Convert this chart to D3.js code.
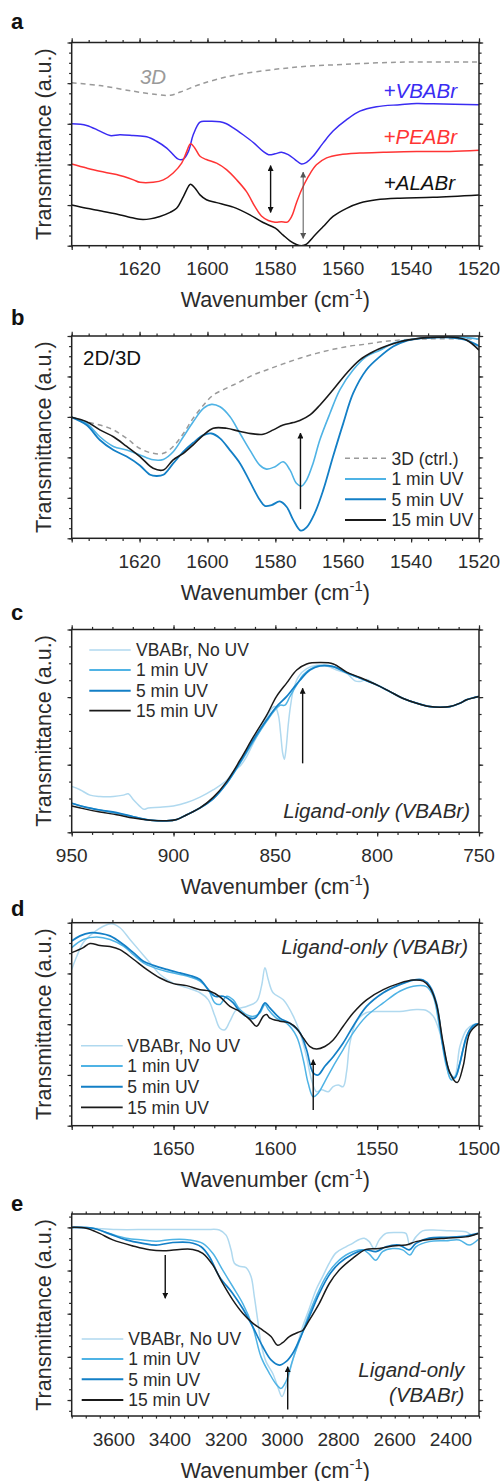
<!DOCTYPE html>
<html><head><meta charset="utf-8">
<script src="https://cdn.jsdelivr.net/npm/d3@7"></script>
<style>body{margin:0;background:#fff}</style>
</head><body><svg id="c" width="500" height="1481" xmlns="http://www.w3.org/2000/svg"></svg>
<script>
// ---------- DATA (wavenumber, transmittance a.u.) ----------
const a3D = [[1640,4.01],[1631.7,3.94],[1621.8,3.80],[1615.0,3.72],[1611.0,3.70],[1608.0,3.78],[1602.2,3.97],[1592.4,4.19],[1580.0,4.34],[1570.0,4.42],[1560.0,4.46],[1550.0,4.50],[1540.0,4.52],[1520,4.52]];
const aVBABr = [[1640,3.00],[1635.6,2.96],[1631.7,2.82],[1628.7,2.71],[1625.8,2.73],[1621.9,2.71],[1617.9,2.68],[1615.0,2.57],[1612.0,2.40],[1610.1,2.24],[1608.6,2.13],[1607.1,2.13],[1605.6,2.32],[1604.2,2.73],[1602.2,3.04],[1600.3,3.06],[1596.3,3.05],[1594.4,3.00],[1592.4,2.90],[1589.5,2.73],[1586.5,2.54],[1583.6,2.32],[1582.0,2.24],[1580.1,2.26],[1578.2,2.30],[1576.2,2.24],[1574.2,2.12],[1572.3,2.01],[1570.8,2.05],[1568.9,2.20],[1565.9,2.53],[1563.0,2.82],[1559.0,3.10],[1555.1,3.31],[1550.2,3.42],[1543.3,3.47],[1538.4,3.50],[1533.5,3.49],[1520,3.47]];
const aPEABr = [[1640,2.01],[1635.6,1.91],[1631.7,1.83],[1626.8,1.75],[1621.8,1.62],[1619.9,1.56],[1616.0,1.56],[1613.0,1.62],[1610.1,1.79],[1607.6,2.03],[1606.1,2.32],[1605.0,2.51],[1603.7,2.40],[1602.2,2.20],[1600.3,2.12],[1597.3,2.03],[1594.4,1.87],[1591.4,1.62],[1588.5,1.33],[1586.0,0.96],[1584.1,0.73],[1582.1,0.62],[1580.1,0.58],[1578.2,0.59],[1576.5,0.58],[1575.2,0.72],[1573.8,1.05],[1572.3,1.37],[1570.3,1.70],[1567.9,1.99],[1564.9,2.16],[1561.0,2.24],[1555.1,2.28],[1548.2,2.30],[1538.4,2.32],[1528.6,2.32],[1520,2.35]];
const aALABr = [[1640,1.00],[1635.6,0.92],[1631.7,0.86],[1626.8,0.78],[1621.8,0.68],[1619.9,0.65],[1616.9,0.66],[1614.0,0.72],[1611.0,0.82],[1609.1,0.92],[1607.1,1.21],[1605.6,1.46],[1605.0,1.51],[1603.7,1.42],[1602.2,1.25],[1600.3,1.13],[1597.3,1.06],[1592.4,0.95],[1587.5,0.76],[1583.6,0.57],[1580.0,0.43],[1577.7,0.26],[1575.7,0.12],[1573.8,0.03],[1572.3,0.00],[1570.8,0.04],[1568.9,0.21],[1565.9,0.47],[1563.0,0.72],[1559.0,0.92],[1555.1,1.05],[1550.2,1.13],[1543.3,1.17],[1533.5,1.19],[1520,1.25]];

const b3D = [[1640,2.99],[1635.6,2.88],[1631.7,2.80],[1627.7,2.68],[1623.8,2.47],[1619.9,2.22],[1616.0,2.10],[1613.0,2.10],[1610.1,2.27],[1607.1,2.59],[1604.2,2.97],[1601.2,3.29],[1598.3,3.54],[1594.4,3.71],[1590.4,3.87],[1586.5,4.04],[1582.6,4.16],[1577.7,4.31],[1572.8,4.45],[1567.9,4.57],[1563.0,4.67],[1558.1,4.75],[1553.2,4.80],[1548.2,4.86],[1543.3,4.90],[1538.4,4.92],[1533.5,4.93],[1528.6,4.93],[1523.7,4.93],[1520,4.92]];
const b1min = [[1640,2.99],[1635.6,2.84],[1631.7,2.51],[1627.7,2.27],[1623.8,2.18],[1619.9,2.06],[1616.0,1.94],[1613.0,1.95],[1610.1,2.14],[1607.1,2.51],[1604.2,2.88],[1601.2,3.21],[1598.8,3.31],[1596.3,3.25],[1593.4,3.01],[1590.4,2.59],[1587.5,2.18],[1584.6,1.81],[1582.6,1.71],[1580.1,1.77],[1577.7,1.89],[1575.7,1.69],[1573.8,1.36],[1572.3,1.29],[1570.8,1.44],[1568.9,1.85],[1566.9,2.43],[1563.9,3.09],[1561.0,3.67],[1557.1,4.16],[1553.2,4.49],[1549.2,4.65],[1545.3,4.82],[1541.4,4.90],[1537.4,4.94],[1533.5,4.97],[1528.6,4.98],[1523.7,4.96],[1520,4.92]];
const b5min = [[1640,2.99],[1635.6,2.80],[1631.7,2.43],[1627.7,2.18],[1623.8,2.02],[1619.9,1.80],[1616.9,1.57],[1615.0,1.54],[1613.0,1.57],[1610.1,1.85],[1607.1,2.14],[1604.2,2.36],[1601.2,2.55],[1598.8,2.59],[1596.3,2.47],[1593.4,2.18],[1590.4,1.85],[1587.5,1.40],[1584.6,0.95],[1583.1,0.80],[1581.1,0.82],[1578.7,0.91],[1576.7,0.78],[1574.7,0.45],[1572.5,0.19],[1570.8,0.27],[1568.4,0.62],[1565.9,1.19],[1563.0,2.02],[1560.0,2.84],[1557.1,3.58],[1553.2,4.16],[1549.2,4.49],[1545.3,4.74],[1541.4,4.88],[1537.4,4.94],[1533.5,4.96],[1528.6,4.96],[1523.7,4.90],[1520,4.75]];
const b15min = [[1640,2.99],[1635.6,2.88],[1631.7,2.68],[1627.7,2.51],[1623.8,2.27],[1619.9,2.02],[1616.0,1.73],[1613.0,1.69],[1610.1,1.94],[1607.1,2.10],[1604.2,2.31],[1601.2,2.55],[1598.3,2.72],[1594.4,2.72],[1590.4,2.64],[1586.5,2.58],[1583.6,2.57],[1580.6,2.68],[1577.7,2.80],[1574.7,2.86],[1572.8,2.91],[1569.8,3.05],[1566.9,3.29],[1563.0,3.67],[1559.0,4.08],[1555.1,4.41],[1551.2,4.61],[1547.3,4.75],[1543.3,4.86],[1539.4,4.92],[1535.5,4.96],[1531.6,4.97],[1527.6,4.97],[1523.7,4.90],[1520,4.65]];

const cNoUV = [[950,0.68],[945.9,0.63],[941.0,0.55],[936.1,0.53],[929.5,0.53],[924.6,0.55],[922.2,0.57],[919.7,0.48],[916.4,0.38],[914.5,0.34],[912.4,0.36],[906.6,0.37],[900.1,0.39],[893.5,0.44],[887.0,0.52],[880.4,0.63],[873.9,0.77],[870.6,0.90],[867.3,0.98],[864.1,1.12],[860.8,1.32],[857.5,1.51],[854.3,1.69],[851.8,1.83],[850.2,1.86],[848.5,1.73],[847.4,1.46],[846.4,1.17],[845.6,1.08],[844.8,1.22],[843.6,1.61],[842.5,1.88],[841.2,2.10],[838.7,2.30],[834.6,2.42],[829.7,2.47],[824.8,2.46],[819.9,2.40],[815.0,2.35],[810.9,2.24],[808.4,2.23],[805.2,2.26],[800.2,2.18],[793.7,2.08],[787.2,1.98],[780.6,1.91],[774.1,1.86],[769.1,1.85],[764.2,1.86],[759.3,1.91],[756.1,1.96],[750,2.01]];
const c1min = [[950,0.43],[944.3,0.38],[936.1,0.33],[927.9,0.28],[919.7,0.23],[911.5,0.18],[903.4,0.17],[898.4,0.19],[893.5,0.26],[887.0,0.36],[880.4,0.50],[873.9,0.72],[867.3,1.02],[860.8,1.34],[854.3,1.64],[850.2,1.81],[847.7,1.88],[845.3,1.88],[842.8,2.01],[839.5,2.18],[836.3,2.33],[831.3,2.44],[826.4,2.47],[821.5,2.45],[815.0,2.36],[808.4,2.28],[800.2,2.18],[793.7,2.08],[787.2,1.98],[780.6,1.91],[774.1,1.86],[769.1,1.85],[764.2,1.86],[759.3,1.91],[756.1,1.96],[750,2.01]];
const c5min = [[950,0.43],[944.3,0.38],[936.1,0.33],[927.9,0.29],[919.7,0.23],[911.5,0.18],[903.4,0.17],[898.4,0.19],[893.5,0.26],[887.0,0.36],[880.4,0.50],[873.9,0.73],[867.3,1.04],[860.8,1.37],[854.3,1.66],[849.4,1.86],[844.4,2.01],[841.2,2.13],[837.9,2.25],[833.0,2.40],[828.1,2.46],[821.5,2.45],[815.0,2.36],[808.4,2.28],[800.2,2.18],[793.7,2.08],[787.2,1.98],[780.6,1.91],[774.1,1.86],[769.1,1.85],[764.2,1.86],[759.3,1.91],[756.1,1.96],[750,2.01]];
const c15min = [[950,0.39],[944.3,0.35],[936.1,0.30],[927.9,0.26],[919.7,0.21],[911.5,0.18],[903.4,0.17],[898.4,0.19],[893.5,0.26],[887.0,0.36],[880.4,0.52],[873.9,0.75],[867.3,1.07],[860.8,1.41],[854.3,1.73],[849.4,2.01],[844.4,2.21],[839.5,2.40],[834.6,2.49],[828.1,2.51],[821.5,2.49],[815.0,2.37],[808.4,2.29],[800.2,2.18],[793.7,2.08],[787.2,1.98],[780.6,1.91],[774.1,1.86],[769.1,1.85],[764.2,1.86],[759.3,1.91],[756.1,1.96],[750,2.01]];

const dNoUV = [[1700,3.08],[1697.5,3.34],[1694.3,3.61],[1689.4,3.80],[1684.5,3.93],[1680.4,3.98],[1676.3,3.90],[1671.4,3.67],[1666.5,3.44],[1661.6,3.21],[1656.6,2.98],[1650.1,2.81],[1643.6,2.72],[1637.0,2.62],[1632.9,2.48],[1629.7,2.16],[1627.2,1.92],[1624.8,1.89],[1622.3,2.06],[1619.0,2.29],[1614.1,2.35],[1609.2,2.45],[1606.8,2.75],[1605.1,3.11],[1603.5,2.88],[1601.1,2.62],[1596.1,2.48],[1591.2,2.16],[1587.9,1.83],[1584.7,1.36],[1582.2,0.90],[1579.8,0.67],[1577.3,0.71],[1574.0,0.67],[1571.6,0.77],[1569.1,0.80],[1566.7,0.77],[1565.0,1.07],[1563.4,1.63],[1560.1,2.06],[1555.2,2.23],[1547.0,2.25],[1538.9,2.25],[1530.7,2.29],[1525.8,2.27],[1522.5,2.16],[1519.2,1.83],[1516.0,1.23],[1514.0,0.92],[1511.9,0.97],[1509.4,1.56],[1506.1,1.89],[1502.9,1.99],[1500,2.01]];
const d1min = [[1700,3.51],[1694.3,3.67],[1687.7,3.72],[1681.2,3.67],[1674.6,3.54],[1669.7,3.37],[1664.8,3.21],[1659.9,3.12],[1653.4,3.04],[1646.8,2.98],[1641.9,2.93],[1637.0,2.85],[1632.9,2.68],[1629.7,2.42],[1627.2,2.39],[1623.9,2.55],[1620.7,2.48],[1617.4,2.29],[1612.5,2.16],[1610.0,2.16],[1607.6,2.22],[1605.1,2.39],[1603.5,2.29],[1599.5,2.12],[1594.5,2.02],[1589.6,1.76],[1586.3,1.30],[1583.9,0.84],[1581.4,0.57],[1579.0,0.64],[1575.7,0.87],[1571.6,1.17],[1566.7,1.50],[1561.8,1.83],[1555.2,2.16],[1547.0,2.42],[1538.9,2.65],[1532.3,2.75],[1525.8,2.74],[1522.5,2.55],[1519.2,1.89],[1516.0,1.17],[1513.5,0.90],[1511.1,1.00],[1507.8,1.50],[1504.5,1.89],[1500,2.01]];
const d5min = [[1700,3.64],[1695.9,3.74],[1691.0,3.80],[1686.1,3.79],[1681.2,3.74],[1674.6,3.57],[1669.7,3.41],[1664.8,3.24],[1659.9,3.16],[1653.4,3.08],[1646.8,3.01],[1641.9,2.96],[1637.0,2.88],[1632.9,2.68],[1629.7,2.55],[1625.6,2.55],[1620.7,2.42],[1617.4,2.25],[1612.5,2.12],[1610.0,2.12],[1607.6,2.25],[1605.1,2.42],[1602.7,2.32],[1597.8,2.12],[1592.9,2.02],[1587.9,1.83],[1584.7,1.50],[1581.4,1.04],[1579.0,1.00],[1575.7,1.17],[1571.6,1.36],[1566.7,1.63],[1561.8,1.96],[1555.2,2.35],[1547.0,2.62],[1538.9,2.78],[1532.3,2.87],[1527.4,2.87],[1524.1,2.75],[1520.9,2.42],[1517.6,1.56],[1514.3,1.04],[1511.9,0.94],[1509.4,1.23],[1506.1,1.76],[1502.9,1.97],[1500,2.01]];
const d15min = [[1700,3.41],[1694.3,3.51],[1691.0,3.59],[1686.1,3.55],[1681.2,3.53],[1676.3,3.47],[1669.7,3.28],[1663.2,3.08],[1656.6,2.91],[1650.1,2.80],[1643.6,2.76],[1637.0,2.68],[1632.1,2.65],[1627.2,2.54],[1622.3,2.35],[1617.4,2.25],[1612.5,2.09],[1609.2,1.96],[1605.9,2.16],[1604.3,2.19],[1602.7,2.12],[1597.8,2.06],[1592.9,2.02],[1589.6,1.92],[1586.3,1.73],[1583.0,1.56],[1579.8,1.51],[1575.7,1.56],[1571.6,1.69],[1566.7,1.96],[1561.8,2.22],[1555.2,2.48],[1547.0,2.68],[1538.9,2.81],[1532.3,2.87],[1527.4,2.85],[1524.1,2.72],[1520.9,2.39],[1517.6,1.63],[1514.3,1.04],[1510.7,0.85],[1507.8,1.17],[1504.5,1.83],[1500,2.01]];

const eNoUV = [[3751.7,4.00],[3674.7,3.98],[3591.7,3.95],[3473.1,3.95],[3354.6,3.95],[3271.6,3.95],[3224.2,3.94],[3200.5,3.82],[3182.7,3.48],[3170.8,3.17],[3153.0,3.10],[3129.3,3.07],[3111.6,2.86],[3099.7,2.39],[3087.8,1.85],[3076.0,1.31],[3058.2,0.89],[3034.5,0.62],[3016.7,0.31],[3001.3,0.08],[2987.1,0.31],[2969.3,0.77],[2945.6,1.31],[2927.8,1.70],[2904.1,2.12],[2880.4,2.55],[2856.7,2.86],[2832.9,3.17],[2809.2,3.41],[2773.7,3.55],[2749.9,3.63],[2726.2,3.72],[2708.5,3.75],[2690.7,3.67],[2672.9,3.51],[2655.1,3.71],[2631.4,3.86],[2584.0,3.88],[2560.3,3.86],[2546.0,3.59],[2524.7,3.78],[2501.0,3.92],[2465.4,3.94],[2406.1,3.92],[2346.9,3.90],[2323.2,3.82],[2303.0,3.86]];
const e1min = [[3751.7,4.00],[3674.7,3.98],[3615.4,3.86],[3556.1,3.75],[3496.9,3.71],[3449.4,3.68],[3390.2,3.72],[3330.9,3.71],[3283.5,3.63],[3247.9,3.40],[3212.3,3.01],[3176.8,2.63],[3141.2,2.24],[3105.6,1.70],[3076.0,1.00],[3046.4,0.62],[3022.6,0.37],[3004.8,0.27],[2987.1,0.43],[2963.4,0.93],[2933.7,1.47],[2904.1,2.01],[2874.5,2.47],[2844.8,2.86],[2809.2,3.17],[2761.8,3.40],[2714.4,3.48],[2690.7,3.38],[2667.0,3.24],[2643.3,3.44],[2607.7,3.51],[2572.1,3.48],[2546.0,3.36],[2524.7,3.55],[2477.3,3.67],[2418.0,3.69],[2370.6,3.71],[2335.0,3.59],[2303.0,3.72]];
const e5min = [[3751.7,4.00],[3674.7,3.98],[3615.4,3.85],[3556.1,3.71],[3496.9,3.63],[3449.4,3.59],[3390.2,3.65],[3330.9,3.65],[3289.4,3.55],[3259.8,3.32],[3224.2,2.86],[3176.8,2.47],[3141.2,2.12],[3105.6,1.70],[3070.1,1.24],[3040.4,0.93],[3010.8,0.81],[2987.1,0.89],[2963.4,1.08],[2939.7,1.39],[2904.1,1.93],[2868.5,2.47],[2832.9,2.90],[2797.4,3.17],[2749.9,3.38],[2702.5,3.48],[2667.0,3.44],[2631.4,3.55],[2584.0,3.59],[2548.4,3.48],[2524.7,3.63],[2477.3,3.75],[2418.0,3.77],[2346.9,3.80],[2303.0,3.86]];
const e15min = [[3751.7,4.00],[3698.4,3.98],[3651.0,3.86],[3603.6,3.71],[3532.4,3.57],[3473.1,3.48],[3413.9,3.46],[3366.4,3.49],[3319.0,3.49],[3283.5,3.40],[3247.9,3.13],[3212.3,2.70],[3176.8,2.32],[3141.2,2.01],[3105.6,1.78],[3070.1,1.62],[3040.4,1.47],[3016.7,1.27],[2999.0,1.33],[2975.2,1.47],[2939.7,1.58],[2927.8,1.61],[2904.1,1.85],[2868.5,2.24],[2832.9,2.70],[2797.4,3.01],[2749.9,3.28],[2702.5,3.49],[2655.1,3.51],[2607.7,3.57],[2560.3,3.59],[2524.7,3.67],[2477.3,3.72],[2418.0,3.75],[2346.9,3.78],[2303.0,3.86]];

// tick labels
const xTicksAB = [1620,1600,1580,1560,1540,1520];
const xTicksC = [950,900,850,800,750];
const xTicksD = [1650,1600,1550,1500];
const xTicksE = [3600,3400,3200,3000,2800,2600,2400];

const legendUV = ["VBABr, No UV","1 min UV","5 min UV","15 min UV"];
const legendB = ["3D (ctrl.)","1 min UV","5 min UV","15 min UV"];

// ---------- STYLES ----------
const FONT = "'Liberation Sans', Arial, Helvetica, sans-serif";
const TXT = "#2b2b2b";
const C_LIGHT = "#b0d9ef", C_1 = "#4fb3e5", C_5 = "#137fc6", C_15 = "#1a1a1a", C_GREY = "#9a9a9a";
const svg = d3.select('#c');
const L = 71.7, R = 479;

const defs = svg.append('defs');
function marker(id, color){
  defs.append('marker').attr('id', id).attr('viewBox','0 0 10 10').attr('refX',9).attr('refY',5)
    .attr('markerWidth',6).attr('markerHeight',6).attr('markerUnits','userSpaceOnUse').attr('orient','auto-start-reverse')
    .append('path').attr('d','M0,0 L10,5 L0,10 z').attr('fill', color);
}
marker('ah','#111'); marker('ahg','#555');

function range(a,b,s){const o=[];for(let v=a;v<=b+1e-9;v+=s)o.push(+v.toFixed(4));return o;}

function panel(cfg){
  const g = svg.append('g');
  const x = d3.scaleLinear().domain(cfg.xDomain).range([L,R]);
  const y = d3.scaleLinear().domain(cfg.yDomain).range([cfg.bottom,cfg.top]);
  const cid = 'clip'+cfg.letter;
  defs.append('clipPath').attr('id',cid).append('rect').attr('x',L).attr('y',cfg.top).attr('width',R-L).attr('height',cfg.bottom-cfg.top);

  const xlo = Math.min(...cfg.xDomain), xhi = Math.max(...cfg.xDomain);
  const xMinor = range(xlo,xhi,cfg.xMinorStep);
  const xMajor = range(xlo,xhi,cfg.xMajorStep).filter(v=>Math.abs((v-cfg.xMajorBase)/cfg.xMajorStep - Math.round((v-cfg.xMajorBase)/cfg.xMajorStep))<1e-6);
  const yMinor = cfg.yMinor, yMajor = cfg.yMajor;
  const tk = (ax, vals, size, tr) => {
    const a = g.append('g').attr('transform',tr).call(ax.tickValues(vals).tickSize(size).tickFormat(''));
    a.select('.domain').remove();
    a.selectAll('line').attr('stroke','#2a2a2a').attr('stroke-width',1.2);
  };
  tk(d3.axisBottom(x), xMinor, 2.6, `translate(0,${cfg.bottom})`);
  tk(d3.axisBottom(x), xMajor, 4.2, `translate(0,${cfg.bottom})`);
  tk(d3.axisTop(x), xMinor, 2.6, `translate(0,${cfg.top})`);
  tk(d3.axisTop(x), xMajor, 4.2, `translate(0,${cfg.top})`);
  tk(d3.axisLeft(y), yMinor, 2.6, `translate(${L},0)`);
  tk(d3.axisLeft(y), yMajor, 4.2, `translate(${L},0)`);
  tk(d3.axisRight(y), yMinor, 2.6, `translate(${R},0)`);
  tk(d3.axisRight(y), yMajor, 4.2, `translate(${R},0)`);

  // tick labels
  g.selectAll('text.tl').data(cfg.xLabels).join('text').attr('class','tl')
    .attr('x',d=>x(d)).attr('y',cfg.bottom+29.5).attr('text-anchor','middle')
    .attr('font-family',FONT).attr('font-size',19).attr('fill',TXT).text(d=>d);

  // series
  const line = d3.line().x(d=>x(d[0])).y(d=>y(d[1])).curve(d3.curveCatmullRom.alpha(0.5));
  const lg = g.append('g').attr('clip-path',`url(#${cid})`);
  cfg.series.forEach(s=>{
    lg.append('path').datum(s.data).attr('d',line).attr('fill','none')
      .attr('stroke',s.color).attr('stroke-width',s.width||1.5)
      .attr('stroke-dasharray',s.dash||null).attr('stroke-linejoin','round');
  });

  // arrows
  (cfg.arrows||[]).forEach(a=>{
    g.append('line').attr('x1',x(a.w)).attr('x2',x(a.w)).attr('y1',y(a.from)).attr('y2',y(a.to))
      .attr('stroke',a.color||'#111').attr('stroke-width',a.sw||1.4)
      .attr('marker-end',`url(#${a.m||'ah'})`).attr('marker-start',a.both?`url(#${a.m||'ah'})`:null);
  });

  // box
  g.append('rect').attr('x',L).attr('y',cfg.top).attr('width',R-L).attr('height',cfg.bottom-cfg.top)
    .attr('fill','none').attr('stroke','#222').attr('stroke-width',1.5);

  // axis titles
  const t = g.append('text').attr('x',(L+R)/2).attr('y',cfg.bottom+61.5).attr('text-anchor','middle')
    .attr('font-family',FONT).attr('font-size',21.5).attr('fill',TXT);
  t.append('tspan').text('Wavenumber (cm');
  t.append('tspan').attr('font-size',15).attr('dy',-8.5).text('-1');
  t.append('tspan').attr('dy',8.5).text(')');
  const cy = (cfg.top+cfg.bottom)/2;
  g.append('text').attr('transform',`translate(51,${cy}) rotate(-90)`).attr('text-anchor','middle')
    .attr('font-family',FONT).attr('font-size',21.5).attr('fill',TXT).text('Transmittance (a.u.)');

  // panel letter
  g.append('text').attr('x',11).attr('y',cfg.letterY).attr('font-family',FONT).attr('font-weight','bold')
    .attr('font-size',22).attr('fill','#111').text(cfg.letter);

  // legend
  if(cfg.legend){
    const Lg = cfg.legend;
    Lg.labels.forEach((lab,i)=>{
      const yy = Lg.rows[i];
      const s = Lg.styles[i];
      g.append('line').attr('x1',Lg.x1).attr('x2',Lg.x2).attr('y1',yy).attr('y2',yy)
        .attr('stroke',s.color).attr('stroke-width',s.width||1.8).attr('stroke-dasharray',s.dash||null);
      g.append('text').attr('x',Lg.tx).attr('y',yy+6.2).attr('font-family',FONT).attr('font-size',17.5)
        .attr('fill',TXT).text(lab);
    });
  }
  // annotations
  (cfg.notes||[]).forEach(n=>{
    g.append('text').attr('x',n.x).attr('y',n.y).attr('text-anchor',n.anchor||'start')
      .attr('font-family',FONT).attr('font-size',n.size||20.5).attr('font-style',n.italic?'italic':null)
      .attr('fill',n.color||TXT).text(n.text);
  });
}

const uvStyles = [{color:C_LIGHT,width:1.6},{color:C_1,width:1.8},{color:C_5,width:2},{color:C_15,width:1.8}];

panel({letter:'a', letterY:29, top:42.5, bottom:245.7, xDomain:[1640,1520], xMinorStep:5, xMajorStep:20, xMajorBase:1520,
  yDomain:[0,5], yMajor:range(0,5,1), yMinor:range(0,5,0.25), xLabels:xTicksAB,
  series:[{data:a3D,color:C_GREY,dash:'5,4',width:1.5},{data:aVBABr,color:'#3a2cf2'},{data:aPEABr,color:'#ff3434'},{data:aALABr,color:'#111'}],
  arrows:[{w:1581.4,from:1.97,to:0.82,both:true},{w:1571.8,from:1.81,to:0.18,both:true,color:'#555',m:'ahg',sw:1}],
  notes:[{text:'3D',x:153,y:84,anchor:'middle',italic:true,color:'#9a9a9a'},
         {text:'+VBABr',x:457,y:98,anchor:'end',italic:true,color:'#3a2cf2'},
         {text:'+PEABr',x:457,y:143.5,anchor:'end',italic:true,color:'#ff3434'},
         {text:'+ALABr',x:455,y:190,anchor:'end',italic:true,color:'#111'}]
});

panel({letter:'b', letterY:325, top:336, bottom:538.3, xDomain:[1640,1520], xMinorStep:5, xMajorStep:20, xMajorBase:1520,
  yDomain:[0,5], yMajor:range(0,5,1), yMinor:range(0,5,0.25), xLabels:xTicksAB,
  series:[{data:b3D,color:C_GREY,dash:'5,4',width:1.5},{data:b1min,color:C_1,width:1.6},{data:b5min,color:C_5,width:1.8},{data:b15min,color:C_15,width:1.6}],
  arrows:[{w:1572.6,from:0.72,to:2.60}],
  legend:{labels:legendB,rows:[458.3,479,499.3,520],x1:345,x2:386,tx:391.5,
    styles:[{color:C_GREY,dash:'5,4',width:1.6},{color:C_1},{color:C_5,width:2},{color:C_15}]},
  notes:[{text:'2D/3D',x:83,y:365,color:'#111'}]
});

panel({letter:'c', letterY:620, top:629.5, bottom:832.3, xDomain:[950,750], xMinorStep:10, xMajorStep:50, xMajorBase:750,
  yDomain:[0,3], yMajor:range(0,3,1), yMinor:range(0,3,0.25), xLabels:xTicksC,
  series:[{data:cNoUV,color:C_LIGHT,width:1.5},{data:c1min,color:C_1,width:1.5},{data:c5min,color:C_5,width:1.7},{data:c15min,color:C_15,width:1.5}],
  arrows:[{w:836.6,from:1.02,to:2.13}],
  legend:{labels:legendUV,rows:[650,670,690.7,710.7],x1:89.3,x2:130.7,tx:136,styles:uvStyles},
  notes:[{text:'Ligand-only (VBABr)',x:470,y:818,anchor:'end',italic:true}]
});

panel({letter:'d', letterY:916, top:922.7, bottom:1125.7, xDomain:[1700,1500], xMinorStep:10, xMajorStep:50, xMajorBase:1500,
  yDomain:[0,4], yMajor:range(0,4,1), yMinor:range(0,4,0.2), xLabels:xTicksD,
  series:[{data:dNoUV,color:C_LIGHT,width:1.5},{data:d1min,color:C_1,width:1.5},{data:d5min,color:C_5,width:1.7},{data:d15min,color:C_15,width:1.5}],
  arrows:[{w:1581.4,from:0.31,to:1.30}],
  legend:{labels:legendUV,rows:[1045.7,1066,1086.7,1107.3],x1:81,x2:122.7,tx:127.3,styles:uvStyles},
  notes:[{text:'Ligand-only (VBABr)',x:468,y:954,anchor:'end',italic:true}]
});

panel({letter:'e', letterY:1210.5, top:1214, bottom:1416, xDomain:[3750,2300], xMinorStep:50, xMajorStep:200, xMajorBase:2400,
  yDomain:[-0.37,4.31], yMajor:range(0,4,1), yMinor:range(-0.25,4.25,0.25), xLabels:xTicksE,
  series:[{data:eNoUV,color:C_LIGHT,width:1.5},{data:e1min,color:C_1,width:1.5},{data:e5min,color:C_5,width:1.7},{data:e15min,color:C_15,width:1.5}],
  arrows:[{w:3417,from:3.36,to:2.36},{w:2981,from:-0.22,to:0.77}],
  legend:{labels:legendUV,rows:[1339,1359,1379.3,1400],x1:81.7,x2:123.3,tx:128.3,styles:uvStyles},
  notes:[{text:'Ligand-only',x:464.3,y:1377,anchor:'end',italic:true},{text:'(VBABr)',x:464.3,y:1402,anchor:'end',italic:true}]
});
</script>
</body></html>
